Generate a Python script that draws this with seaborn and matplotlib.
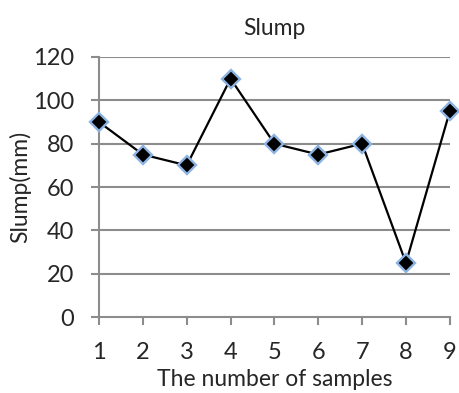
import matplotlib
matplotlib.use("Agg")
import matplotlib.pyplot as plt
import seaborn as sns
import pandas as pd

samples = [1, 2, 3, 4, 5, 6, 7, 8, 9]
slump = [90, 75, 70, 110, 80, 75, 80, 25, 95]
y_ticks = [0, 20, 40, 60, 80, 100, 120]

sns.set_style("white")
plt.rcParams["font.family"] = ["Lato", "DejaVu Sans"]

df = pd.DataFrame({"sample": samples, "slump": slump})

fig = plt.figure(figsize=(4.59, 3.93), dpi=100)
ax = fig.add_axes([0.2157, 0.193, 0.7643, 0.662])

grid_col = "#8c8c8c"
for v in y_ticks[1:]:
    ax.axhline(v, color=grid_col, lw=1.5, zorder=0)

sns.lineplot(data=df, x="sample", y="slump", ax=ax, color="black", lw=1.6,
             marker="D", markersize=9.5, markerfacecolor="black",
             markeredgecolor="#8db3e2", markeredgewidth=1.7, zorder=3,
             clip_on=False)

ax.set_xlim(1, 9)
ax.set_ylim(0, 120)
ax.set_xticks(samples)
ax.set_yticks(y_ticks)
ax.tick_params(axis="both", labelsize=17, color=grid_col, width=1.5,
               direction="out", length=6, left=True, bottom=True)
ax.tick_params(axis="x", pad=12)
ax.tick_params(axis="y", pad=12)
for side in ["top", "right"]:
    ax.spines[side].set_visible(False)
for side in ["left", "bottom"]:
    ax.spines[side].set_color(grid_col)
    ax.spines[side].set_linewidth(1.5)

ax.set_title("Slump", fontsize=16.5, pad=16)
ax.set_xlabel("The number of samples", fontsize=16.5, labelpad=4)
ax.set_ylabel("Slump(mm)", fontsize=16.5, labelpad=1)

fig.savefig("out.png", dpi=100)
